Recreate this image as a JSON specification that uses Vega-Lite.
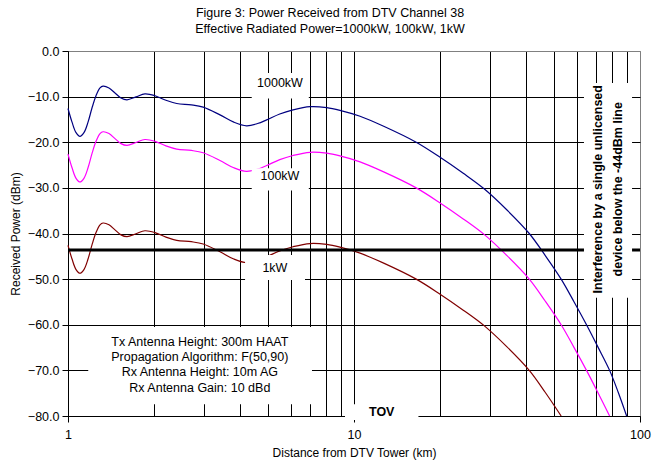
{
  "$schema": "https://vega.github.io/schema/vega-lite/v6.json",
  "width": 572,
  "height": 365,
  "autosize": {"type": "none"},
  "padding": {"left": 68, "top": 51, "right": 17, "bottom": 47},
  "background": "white",
  "config": {
    "font": "Liberation Sans",
    "view": {"stroke": "#808080", "strokeWidth": 1},
    "axis": {"labelFont": "Liberation Sans", "titleFont": "Liberation Sans", "labelColor": "black", "titleColor": "black", "titleFontWeight": "normal", "domainColor": "black", "tickColor": "black"},
    "title": {"font": "Liberation Sans", "fontSize": 12.5, "fontWeight": "normal", "color": "black"}
  },
  "title": {
    "text": ["Figure 3: Power Received from DTV Channel 38", "Effective Radiated Power=1000kW, 100kW, 1kW"],
    "anchor": "middle",
    "frame": "group",
    "dx": -24,
    "offset": 10,
    "lineHeight": 16
  },
  "datasets": {
    "curves": [
      {"dist": 1.000, "power": -12.6, "erp": "1000kW"},
      {"dist": 1.033, "power": -15.6, "erp": "1000kW"},
      {"dist": 1.067, "power": -17.9, "erp": "1000kW"},
      {"dist": 1.101, "power": -18.7, "erp": "1000kW"},
      {"dist": 1.137, "power": -17.9, "erp": "1000kW"},
      {"dist": 1.175, "power": -15.6, "erp": "1000kW"},
      {"dist": 1.213, "power": -12.5, "erp": "1000kW"},
      {"dist": 1.253, "power": -9.8, "erp": "1000kW"},
      {"dist": 1.294, "power": -8.1, "erp": "1000kW"},
      {"dist": 1.326, "power": -7.7, "erp": "1000kW"},
      {"dist": 1.391, "power": -8.1, "erp": "1000kW"},
      {"dist": 1.460, "power": -9.2, "erp": "1000kW"},
      {"dist": 1.532, "power": -10.3, "erp": "1000kW"},
      {"dist": 1.608, "power": -10.7, "erp": "1000kW"},
      {"dist": 1.729, "power": -10.05, "erp": "1000kW"},
      {"dist": 1.858, "power": -9.4, "erp": "1000kW"},
      {"dist": 2.015, "power": -9.8, "erp": "1000kW"},
      {"dist": 2.20, "power": -10.8, "erp": "1000kW"},
      {"dist": 2.40, "power": -11.5, "erp": "1000kW"},
      {"dist": 2.70, "power": -11.8, "erp": "1000kW"},
      {"dist": 2.97, "power": -12.3, "erp": "1000kW"},
      {"dist": 3.40, "power": -14.0, "erp": "1000kW"},
      {"dist": 3.80, "power": -15.6, "erp": "1000kW"},
      {"dist": 4.21, "power": -16.4, "erp": "1000kW"},
      {"dist": 4.60, "power": -15.9, "erp": "1000kW"},
      {"dist": 4.95, "power": -15.1, "erp": "1000kW"},
      {"dist": 5.50, "power": -13.8, "erp": "1000kW"},
      {"dist": 6.12, "power": -12.9, "erp": "1000kW"},
      {"dist": 7.02, "power": -12.2, "erp": "1000kW"},
      {"dist": 8.03, "power": -12.4, "erp": "1000kW"},
      {"dist": 8.93, "power": -13.0, "erp": "1000kW"},
      {"dist": 10.5, "power": -14.3, "erp": "1000kW"},
      {"dist": 12.7, "power": -16.5, "erp": "1000kW"},
      {"dist": 16.5, "power": -20.0, "erp": "1000kW"},
      {"dist": 20.0, "power": -23.3, "erp": "1000kW"},
      {"dist": 24.1, "power": -26.8, "erp": "1000kW"},
      {"dist": 28.5, "power": -30.2, "erp": "1000kW"},
      {"dist": 34.2, "power": -34.8, "erp": "1000kW"},
      {"dist": 41.0, "power": -40.0, "erp": "1000kW"},
      {"dist": 46.6, "power": -44.8, "erp": "1000kW"},
      {"dist": 53.0, "power": -50.0, "erp": "1000kW"},
      {"dist": 58.7, "power": -54.9, "erp": "1000kW"},
      {"dist": 65.0, "power": -60.0, "erp": "1000kW"},
      {"dist": 71.3, "power": -64.9, "erp": "1000kW"},
      {"dist": 78.3, "power": -70.0, "erp": "1000kW"},
      {"dist": 83.9, "power": -74.8, "erp": "1000kW"},
      {"dist": 89.8, "power": -80.0, "erp": "1000kW"},

      {"dist": 1.000, "power": -22.6, "erp": "100kW"},
      {"dist": 1.033, "power": -25.6, "erp": "100kW"},
      {"dist": 1.067, "power": -27.9, "erp": "100kW"},
      {"dist": 1.101, "power": -28.7, "erp": "100kW"},
      {"dist": 1.137, "power": -27.9, "erp": "100kW"},
      {"dist": 1.175, "power": -25.6, "erp": "100kW"},
      {"dist": 1.213, "power": -22.5, "erp": "100kW"},
      {"dist": 1.253, "power": -19.8, "erp": "100kW"},
      {"dist": 1.294, "power": -18.1, "erp": "100kW"},
      {"dist": 1.326, "power": -17.7, "erp": "100kW"},
      {"dist": 1.391, "power": -18.1, "erp": "100kW"},
      {"dist": 1.460, "power": -19.2, "erp": "100kW"},
      {"dist": 1.532, "power": -20.3, "erp": "100kW"},
      {"dist": 1.608, "power": -20.7, "erp": "100kW"},
      {"dist": 1.729, "power": -20.05, "erp": "100kW"},
      {"dist": 1.858, "power": -19.4, "erp": "100kW"},
      {"dist": 2.015, "power": -19.8, "erp": "100kW"},
      {"dist": 2.20, "power": -20.8, "erp": "100kW"},
      {"dist": 2.40, "power": -21.5, "erp": "100kW"},
      {"dist": 2.70, "power": -21.8, "erp": "100kW"},
      {"dist": 2.97, "power": -22.3, "erp": "100kW"},
      {"dist": 3.40, "power": -24.0, "erp": "100kW"},
      {"dist": 3.80, "power": -25.6, "erp": "100kW"},
      {"dist": 4.21, "power": -26.4, "erp": "100kW"},
      {"dist": 4.60, "power": -25.9, "erp": "100kW"},
      {"dist": 4.95, "power": -25.1, "erp": "100kW"},
      {"dist": 5.50, "power": -23.8, "erp": "100kW"},
      {"dist": 6.12, "power": -22.9, "erp": "100kW"},
      {"dist": 7.02, "power": -22.2, "erp": "100kW"},
      {"dist": 8.03, "power": -22.4, "erp": "100kW"},
      {"dist": 8.93, "power": -23.0, "erp": "100kW"},
      {"dist": 10.5, "power": -24.3, "erp": "100kW"},
      {"dist": 12.7, "power": -26.5, "erp": "100kW"},
      {"dist": 16.5, "power": -30.0, "erp": "100kW"},
      {"dist": 20.0, "power": -33.3, "erp": "100kW"},
      {"dist": 24.1, "power": -36.8, "erp": "100kW"},
      {"dist": 28.5, "power": -40.2, "erp": "100kW"},
      {"dist": 34.2, "power": -44.8, "erp": "100kW"},
      {"dist": 41.0, "power": -50.0, "erp": "100kW"},
      {"dist": 46.6, "power": -54.8, "erp": "100kW"},
      {"dist": 53.0, "power": -60.0, "erp": "100kW"},
      {"dist": 58.7, "power": -64.9, "erp": "100kW"},
      {"dist": 65.0, "power": -70.0, "erp": "100kW"},
      {"dist": 71.3, "power": -74.9, "erp": "100kW"},
      {"dist": 78.3, "power": -80.0, "erp": "100kW"},

      {"dist": 1.000, "power": -42.6, "erp": "1kW"},
      {"dist": 1.033, "power": -45.6, "erp": "1kW"},
      {"dist": 1.067, "power": -47.9, "erp": "1kW"},
      {"dist": 1.101, "power": -48.7, "erp": "1kW"},
      {"dist": 1.137, "power": -47.9, "erp": "1kW"},
      {"dist": 1.175, "power": -45.6, "erp": "1kW"},
      {"dist": 1.213, "power": -42.5, "erp": "1kW"},
      {"dist": 1.253, "power": -39.8, "erp": "1kW"},
      {"dist": 1.294, "power": -38.1, "erp": "1kW"},
      {"dist": 1.326, "power": -37.7, "erp": "1kW"},
      {"dist": 1.391, "power": -38.1, "erp": "1kW"},
      {"dist": 1.460, "power": -39.2, "erp": "1kW"},
      {"dist": 1.532, "power": -40.3, "erp": "1kW"},
      {"dist": 1.608, "power": -40.7, "erp": "1kW"},
      {"dist": 1.729, "power": -40.05, "erp": "1kW"},
      {"dist": 1.858, "power": -39.4, "erp": "1kW"},
      {"dist": 2.015, "power": -39.8, "erp": "1kW"},
      {"dist": 2.20, "power": -40.8, "erp": "1kW"},
      {"dist": 2.40, "power": -41.5, "erp": "1kW"},
      {"dist": 2.70, "power": -41.8, "erp": "1kW"},
      {"dist": 2.97, "power": -42.3, "erp": "1kW"},
      {"dist": 3.40, "power": -44.0, "erp": "1kW"},
      {"dist": 3.80, "power": -45.6, "erp": "1kW"},
      {"dist": 4.21, "power": -46.4, "erp": "1kW"},
      {"dist": 4.60, "power": -45.9, "erp": "1kW"},
      {"dist": 4.95, "power": -45.1, "erp": "1kW"},
      {"dist": 5.50, "power": -43.8, "erp": "1kW"},
      {"dist": 6.12, "power": -42.9, "erp": "1kW"},
      {"dist": 7.02, "power": -42.2, "erp": "1kW"},
      {"dist": 8.03, "power": -42.4, "erp": "1kW"},
      {"dist": 8.93, "power": -43.0, "erp": "1kW"},
      {"dist": 10.5, "power": -44.3, "erp": "1kW"},
      {"dist": 12.7, "power": -46.5, "erp": "1kW"},
      {"dist": 16.5, "power": -50.0, "erp": "1kW"},
      {"dist": 20.0, "power": -53.3, "erp": "1kW"},
      {"dist": 24.1, "power": -56.8, "erp": "1kW"},
      {"dist": 28.5, "power": -60.2, "erp": "1kW"},
      {"dist": 34.2, "power": -64.8, "erp": "1kW"},
      {"dist": 41.0, "power": -70.0, "erp": "1kW"},
      {"dist": 46.6, "power": -74.8, "erp": "1kW"},
      {"dist": 53.0, "power": -80.0, "erp": "1kW"}
    ],
    "boxes": [
      {"dist": 4.39, "dist2": 6.95, "power": -4.8, "power2": -10.4},
      {"dist": 4.39, "dist2": 6.95, "power": -25.7, "power2": -30.6},
      {"dist": 4.16, "dist2": 6.74, "power": -44.7, "power2": -50.2},
      {"dist": 1.177, "dist2": 7.13, "power": -60.5, "power2": -77.4},
      {"dist": 9.3, "dist2": 16.8, "power": -77.4, "power2": -80.9},
      {"dist": 63.7, "dist2": 93.8, "power": -7.0, "power2": -54.1}
    ],
    "labels": [
      {"dist": 5.51, "power": -6.95, "label": "1000kW"},
      {"dist": 5.51, "power": -27.5, "label": "100kW"},
      {"dist": 5.29, "power": -47.5, "label": "1kW"},
      {"dist": 2.89, "power": -63.7, "label": "Tx Antenna Height: 300m HAAT\nPropagation Algorithm: F(50,90)\nRx Antenna Height: 10m AG\nRx Antenna Gain: 10 dBd"}
    ],
    "bold": [
      {"dist": 12.5, "power": -79.1, "label": "TOV"}
    ],
    "rotated": [
      {"dist": 71.3, "power": -30.3, "label": "Interference by a single unlicensed\ndevice below the -44dBm line"}
    ]
  },
  "layer": [
    {
      "data": {"name": "curves"},
      "mark": {"type": "line", "interpolate": "catmull-rom", "strokeWidth": 1.2},
      "encoding": {
        "x": {
          "field": "dist", "type": "quantitative",
          "scale": {"type": "log", "domain": [1, 100]},
          "axis": {
            "values": [1, 2, 3, 4, 5, 6, 7, 8, 9, 10, 20, 30, 40, 50, 60, 70, 80, 90, 100],
            "labelExpr": "(datum.value == 1 || datum.value == 10 || datum.value == 100) ? datum.label : ''",
            "format": "d",
            "grid": true,
            "gridColor": {"condition": {"test": "datum.value == 100", "value": "#808080"}, "value": "black"},
            "gridWidth": 1,
            "gridOpacity": 1,
            "tickSize": 6,
            "tickOpacity": {"condition": {"test": "datum.value == 1 || datum.value == 10 || datum.value == 100", "value": 1}, "value": 0},
            "labelFontSize": 12.5,
            "labelPadding": 6,
            "labelFlush": false,
            "title": "Distance from DTV Tower (km)",
            "titleFontSize": 12,
            "titlePadding": 7
          }
        },
        "y": {
          "field": "power", "type": "quantitative",
          "scale": {"domain": [-80, 0], "nice": false, "zero": false},
          "axis": {
            "values": [-80, -70, -60, -50, -40, -30, -20, -10, 0],
            "format": ".1f",
            "grid": true,
            "gridColor": {"condition": {"test": "datum.value == 0", "value": "#808080"}, "value": "black"},
            "gridWidth": 1,
            "gridOpacity": 1,
            "tickSize": 6,
            "labelFontSize": 12.5,
            "labelPadding": 3,
            "title": "Received Power (dBm)",
            "titleFontSize": 12,
            "titlePadding": 5
          }
        },
        "color": {
          "field": "erp", "type": "nominal",
          "scale": {"domain": ["1000kW", "100kW", "1kW"], "range": ["#000080", "#FF00FF", "#800000"]},
          "legend": null
        },
        "detail": {"field": "erp"}
      }
    },
    {
      "data": {"values": [{}]},
      "mark": {"type": "rule", "color": "black", "strokeWidth": 3},
      "encoding": {"y": {"datum": -43.6, "type": "quantitative"}}
    },
    {
      "data": {"name": "boxes"},
      "mark": {"type": "rect", "color": "white", "opacity": 1},
      "encoding": {
        "x": {"field": "dist", "type": "quantitative"},
        "x2": {"field": "dist2"},
        "y": {"field": "power", "type": "quantitative"},
        "y2": {"field": "power2"}
      }
    },
    {
      "data": {"name": "labels"},
      "mark": {"type": "text", "fontSize": 12.5, "font": "Liberation Sans", "color": "black", "align": "center", "baseline": "middle", "lineBreak": "\n", "lineHeight": 15.3},
      "encoding": {
        "x": {"field": "dist", "type": "quantitative"},
        "y": {"field": "power", "type": "quantitative"},
        "text": {"field": "label"}
      }
    },
    {
      "data": {"name": "bold"},
      "mark": {"type": "text", "fontSize": 12.5, "font": "Liberation Sans", "fontWeight": "bold", "color": "black", "align": "center", "baseline": "middle"},
      "encoding": {
        "x": {"field": "dist", "type": "quantitative"},
        "y": {"field": "power", "type": "quantitative"},
        "text": {"field": "label"}
      }
    },
    {
      "data": {"name": "rotated"},
      "mark": {"type": "text", "fontSize": 12.5, "font": "Liberation Sans", "fontWeight": "bold", "color": "black", "align": "center", "baseline": "middle", "angle": 270, "lineBreak": "\n", "lineHeight": 20},
      "encoding": {
        "x": {"field": "dist", "type": "quantitative"},
        "y": {"field": "power", "type": "quantitative"},
        "text": {"field": "label"}
      }
    }
  ]
}
